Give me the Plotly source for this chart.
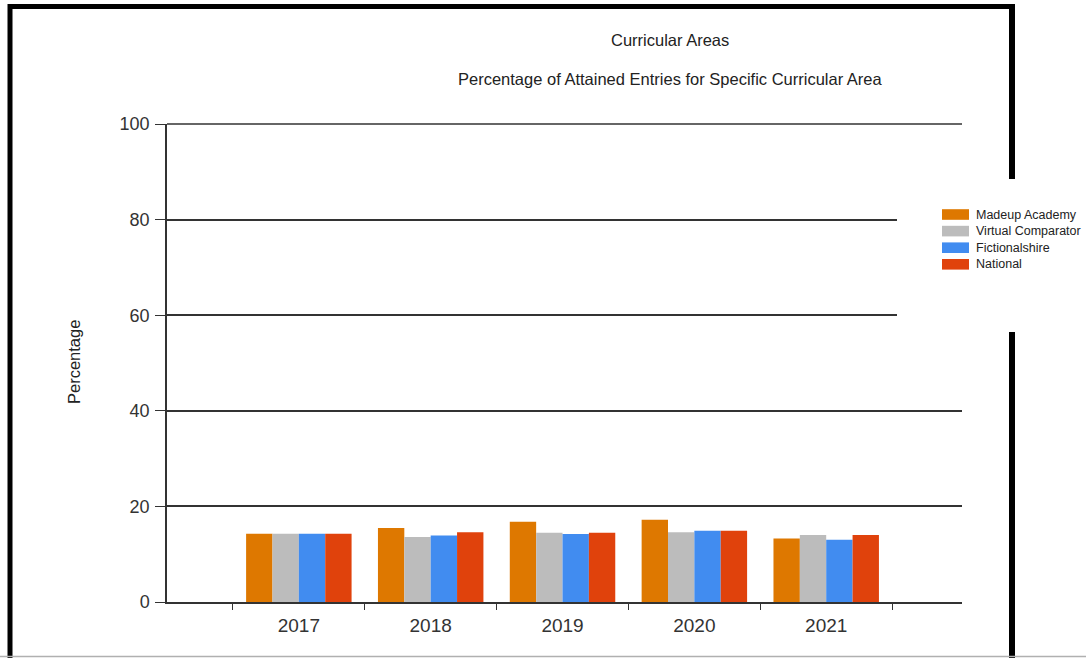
import plotly.graph_objects as go

# Attainment data (percentage of attained entries) by year
years = ["2017", "2018", "2019", "2020", "2021"]
madeup_academy = [14.3, 15.5, 16.8, 17.2, 13.3]
virtual_comparator = [14.3, 13.6, 14.5, 14.6, 14.0]
fictionalshire = [14.3, 13.9, 14.2, 14.9, 13.0]
national = [14.3, 14.6, 14.5, 14.9, 14.0]

series_names = ["Madeup Academy", "Virtual Comparator", "Fictionalshire", "National"]
series_values = [madeup_academy, virtual_comparator, fictionalshire, national]
series_colors = ["#DE7800", "#BCBCBC", "#418CF0", "#E0420C"]

y_ticks = [0, 20, 40, 60, 80, 100]

FONT = "Liberation Sans, Arial, sans-serif"
W, H = 1086, 658
L, R, T, B = 167, 124, 124, 56
PW, PH = W - L - R, H - T - B


def px_x(x):
    return (x - L) / PW


def px_y(y):
    return (H - B - y) / PH


fig = go.Figure()
for name, vals, col in zip(series_names, series_values, series_colors):
    fig.add_trace(go.Bar(x=years, y=vals, name=name, showlegend=False,
                         marker=dict(color=col, line=dict(width=0))))

shapes = [
    # top gridline along the upper edge of the plot area (axis maximum)
    dict(type="line", xref="paper", yref="paper", x0=0, x1=1, y0=1, y1=1,
         line=dict(color="#333", width=1.5), layer="below"),
    # outer frame
    dict(type="line", xref="paper", yref="paper", x0=px_x(10), x1=px_x(10), y0=px_y(4), y1=px_y(670),
         line=dict(color="black", width=5)),
    dict(type="line", xref="paper", yref="paper", x0=px_x(8), x1=px_x(1015), y0=px_y(6.5), y1=px_y(6.5),
         line=dict(color="black", width=5)),
    dict(type="line", xref="paper", yref="paper", x0=px_x(1012), x1=px_x(1012), y0=px_y(4), y1=px_y(670),
         line=dict(color="black", width=6)),
    dict(type="line", xref="paper", yref="paper", x0=px_x(0), x1=px_x(1086), y0=px_y(656.5), y1=px_y(656.5),
         line=dict(color="#b0b0b0", width=1.5)),
    # legend panel
    dict(type="rect", xref="paper", yref="paper", x0=px_x(897), x1=px_x(1090), y0=px_y(179), y1=px_y(332),
         fillcolor="white", line=dict(width=0), layer="above"),
]

annotations = [
    dict(text="Curricular Areas", xref="paper", yref="paper", x=px_x(670), y=px_y(40),
         showarrow=False, xanchor="center", yanchor="middle", font=dict(size=16.5, color="#222", family=FONT)),
    dict(text="Percentage of Attained Entries for Specific Curricular Area", xref="paper", yref="paper",
         x=px_x(670), y=px_y(79), showarrow=False, xanchor="center", yanchor="middle",
         font=dict(size=16.5, color="#222", family=FONT)),
    dict(text="Percentage", xref="paper", yref="paper", x=px_x(74), y=px_y(362), textangle=-90,
         showarrow=False, xanchor="center", yanchor="middle", font=dict(size=16.5, color="#222", family=FONT)),
]

# legend entries: swatch plus label, stacked in the panel on the right
legend_top, legend_step = 214.5, 16.6
for i, (name, col) in enumerate(zip(series_names, series_colors)):
    cy = legend_top + i * legend_step
    shapes.append(dict(type="rect", xref="paper", yref="paper", x0=px_x(942), x1=px_x(969),
                       y0=px_y(cy - 5.3), y1=px_y(cy + 5.3), fillcolor=col, line=dict(width=0),
                       layer="above"))
    annotations.append(dict(text=name, xref="paper", yref="paper", x=px_x(974), y=px_y(cy),
                            showarrow=False, xanchor="left", yanchor="middle",
                            font=dict(size=12.5, color="#222", family=FONT)))

fig.update_layout(
    width=W, height=H,
    margin=dict(l=L, r=R, t=T, b=B, pad=0, autoexpand=False),
    paper_bgcolor="white", plot_bgcolor="white",
    barmode="group", bargap=0.2, bargroupgap=0,
    showlegend=False,
    font=dict(family=FONT, color="#333"),
    shapes=shapes,
    annotations=annotations,
    xaxis=dict(type="category", range=[-1, 5.03], tickson="boundaries", ticks="outside", ticklen=6,
               tickcolor="#333", showline=True, linecolor="#333", linewidth=1.5, showgrid=False,
               tickfont=dict(size=19, color="#333"), ticklabelstandoff=5),
    yaxis=dict(range=[0, 100], tickvals=y_ticks, ticks="outside", ticklen=10, tickcolor="#333",
               showline=True, linecolor="#333", linewidth=1.5, showgrid=True, gridcolor="#333",
               gridwidth=1.5, zeroline=False, tickfont=dict(size=18, color="#333"),
               ticklabelstandoff=2),
)

fig.write_html("out.html")
